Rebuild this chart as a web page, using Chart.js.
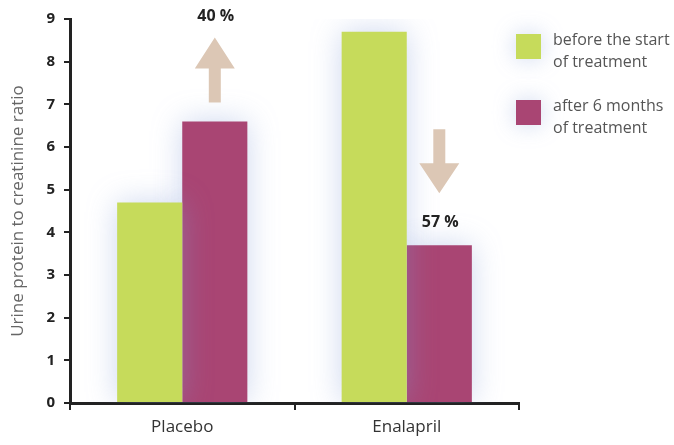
<!DOCTYPE html>
<html>
<head>
<meta charset="utf-8">
<script src="https://cdn.jsdelivr.net/npm/chart.js@4/dist/chart.umd.min.js"></script>
<style>
  body { margin: 0; background: #fff; }
  #wrap { width: 674px; height: 445px; position: relative; }
</style>
</head>
<body>
<div id="wrap"><canvas id="chart"></canvas></div>
<script>
const categories = ["Placebo", "Enalapril"];
const beforeValues = [4.7, 8.7];
const afterValues = [6.6, 3.7];
const seriesLabels = [["before the start", "of treatment"], ["after 6 months", "of treatment"]];
const changeLabels = ["40 %", "57 %"];
const yTicks = [0, 1, 2, 3, 4, 5, 6, 7, 8, 9];

const GREEN = "#c6db5b";
const PLUM = "#a94573";
const ARROW = "#dcc7b5";
const AXIS = "#222";

// soft bluish glow behind the bars
const glow = {
    id: "glow",
    beforeDatasetsDraw(chart) {
        const ctx = chart.ctx;
        ctx.save();
        ctx.shadowColor = "rgba(130,155,215,0.4)";
        ctx.shadowBlur = 30;
    },
    afterDatasetsDraw(chart) {
        chart.ctx.restore();
    }
};

// arrows with percent change above the "after" bars, plus the legend on the right
const annotations = {
    id: "annotations",
    afterDraw(chart) {
        const ctx = chart.ctx;
        const bars = chart.getDatasetMeta(1).data;
        ctx.save();
        bars.forEach((bar, i) => {
            const x = bar.x;
            const top = bar.y;
            const up = afterValues[i] > beforeValues[i];
            const base = up ? top - 19 : top - 116;
            const tip = up ? top - 84 : top - 52;
            const neck = up ? top - 53 : top - 82;
            ctx.fillStyle = ARROW;
            ctx.beginPath();
            ctx.moveTo(x - 6, base);
            ctx.lineTo(x + 6, base);
            ctx.lineTo(x + 6, neck);
            ctx.lineTo(x + 20, neck);
            ctx.lineTo(x, tip);
            ctx.lineTo(x - 20, neck);
            ctx.lineTo(x - 6, neck);
            ctx.closePath();
            ctx.fill();

            ctx.fillStyle = "#222";
            ctx.font = "bold 16px 'Open Sans', sans-serif";
            ctx.textAlign = "center";
            ctx.textBaseline = "middle";
            ctx.fillText(changeLabels[i], x + 1, up ? top - 105 : top - 23);
        });

        // legend
        const colors = [GREEN, PLUM];
        const lx = 516, ly = [34, 100];
        seriesLabels.forEach((lines, i) => {
            ctx.save();
            ctx.shadowColor = "rgba(130,155,215,0.4)";
            ctx.shadowBlur = 22;
            ctx.fillStyle = colors[i];
            ctx.fillRect(lx, ly[i], 25, 25);
            ctx.restore();
            ctx.fillStyle = "#555";
            ctx.font = "16px 'Open Sans', sans-serif";
            ctx.textAlign = "left";
            ctx.textBaseline = "middle";
            lines.forEach((t, j) => ctx.fillText(t, lx + 37, ly[i] + 6 + j * 22));
        });
        ctx.restore();
    }
};

new Chart(document.getElementById("chart"), {
    type: "bar",
    data: {
        labels: categories,
        datasets: [
            { label: seriesLabels[0].join(" "), data: beforeValues, backgroundColor: GREEN },
            { label: seriesLabels[1].join(" "), data: afterValues, backgroundColor: PLUM }
        ]
    },
    options: {
        responsive: true,
        maintainAspectRatio: false,
        animation: false,
        layout: { padding: { top: 19, right: 155, left: 0, bottom: 0 } },
        categoryPercentage: 0.58,
        barPercentage: 1.0,
        plugins: {
            legend: { display: false },
            tooltip: { enabled: false }
        },
        scales: {
            x: {
                afterFit: s => { s.height = 42; },
                border: { display: true, color: AXIS, width: 3 },
                grid: { display: true, offset: true, drawOnChartArea: false, color: AXIS, lineWidth: 2, tickLength: 7 },
                ticks: { color: "#333", font: { family: "'Open Sans', sans-serif", size: 17 }, padding: 7 }
            },
            y: {
                min: 0,
                max: 9,
                afterFit: s => { s.width = 70; },
                afterBuildTicks: s => { s.ticks = yTicks.map(v => ({ value: v })); },
                border: { display: true, color: AXIS, width: 3 },
                grid: { display: true, drawOnChartArea: false, color: AXIS, lineWidth: 2, tickLength: 6 },
                ticks: { color: "#222", font: { family: "'Open Sans', sans-serif", size: 15, weight: "bold" }, padding: 9 },
                title: {
                    display: true,
                    text: "Urine protein to creatinine ratio",
                    color: "#666",
                    font: { family: "'Open Sans', sans-serif", size: 17 },
                    padding: { top: 8, bottom: 0 }
                }
            }
        }
    },
    plugins: [glow, annotations]
});
</script>
</body>
</html>
